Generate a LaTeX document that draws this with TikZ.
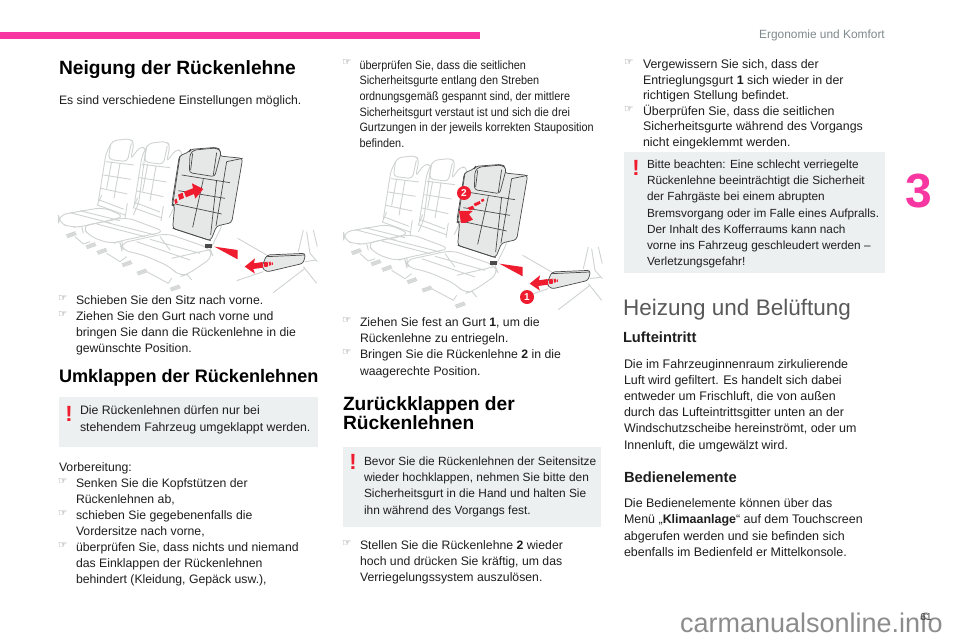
\documentclass[tikz,border=0pt]{standalone}
\usepackage{fontspec}
\setmainfont{Liberation Sans}
\newfontfamily\dejavu{DejaVu Sans}
\newfontfamily\condfont[FakeStretch=0.90]{Liberation Sans}
\definecolor{pinkbar}{HTML}{F736A2}
\definecolor{boxgray}{HTML}{EDF0F0}
\definecolor{txt}{HTML}{1E1E1E}
\definecolor{seatline}{HTML}{CFD3D1}
\definecolor{seatfill}{HTML}{E6E8E7}
\definecolor{seatdark}{HTML}{4A4A4A}
\definecolor{redmark}{HTML}{EE1C2E}
\definecolor{headgray}{HTML}{7F8A8C}
\tikzset{
 x=1pt,y=-1pt,
 body/.style={anchor=north west,inner sep=0pt,outer sep=0pt,align=left,text=txt,font=\fontsize{12.25}{16.3}\selectfont},
 bodyc/.style={body,font=\fontsize{12.45}{16.2}\selectfont},
 bodyb/.style={body,font=\fontsize{11.9}{16.3}\selectfont},
 cond/.style={anchor=north west,inner sep=0pt,outer sep=0pt,align=left,text=txt,font=\condfont\fontsize{12.1}{15.6}\selectfont},
 head/.style={anchor=north west,inner sep=0pt,outer sep=0pt,align=left,text=black,font=\bfseries\fontsize{19.2}{19.5}\selectfont},
 subhead/.style={anchor=north west,inner sep=0pt,outer sep=0pt,text=txt,font=\bfseries\fontsize{14.7}{16}\selectfont},
 hand/.style={anchor=north west,inner sep=0pt,outer sep=0pt,align=left,text=black!55,font=\dejavu\fontsize{10.5}{16}\selectfont},
 warnbox/.style={fill=boxgray,draw=none},
 warn/.style={anchor=center,inner sep=0pt,text=redmark,font=\bfseries\fontsize{22}{22}\selectfont},
 badge/.style={circle,fill=redmark,text=white,inner sep=0pt,minimum size=14pt,font=\bfseries\fontsize{10}{10}\selectfont},
 sl/.style={draw=seatline,line width=.9pt,line join=round},
 sd/.style={draw=seatdark,line width=.7pt,line join=round},
 rd/.style={fill=redmark,draw=none},
}
\newcommand{\seatpic}{%
 \foreach \dx/\dy in {0/0,108/8}{
  \begin{scope}[shift={(\dx,\dy)}]
   \draw[sl,rounded corners=4pt] (175,245)--(198,100)--(218,62)--(272,56)--(282,70)--(272,118)--(298,82)--(318,82)--(296,250)--(280,285);
   \draw[sl,rounded corners=4pt] (212,72)--(205,118)--(262,125)--(274,70);
   \draw[sl] (198,125)--(282,135) (190,165)--(272,178) (183,205)--(262,222) (178,240)--(252,268) (240,130)--(222,235) (215,125)--(200,205);
   \draw[sl] (185,225)--(172,255)--(255,285) (262,250)--(255,295);
  \end{scope}}
 \draw[sl,rounded corners=8pt] (56,285)--(190,262)--(255,290)--(125,320)--(95,322)--(56,310)--cycle;
 \draw[sl,rounded corners=8pt] (125,318)--(260,292)--(375,335)--(245,362)--(215,372)--(150,350)--cycle;
 \draw[sl,rounded corners=8pt] (240,370)--(380,340)--(510,385)--(520,410)--(445,462)--(420,470)--(390,440)--(310,405)--(245,390)--cycle;
 \draw[sl] (90,278)--(215,310) (120,272)--(240,302) (170,312)--(315,350) (190,305)--(345,345) (290,365)--(450,420) (330,358)--(480,400) (360,350)--(390,390) (395,415)--(505,390);
 \draw[sl] (125,320)--(130,340) (245,362)--(250,390) (440,462)--(455,480) (510,390)--(540,330)--(550,300);
 \foreach \a/\b in {78/345,137/378,170/395,245/432,290/457,390/505}{
  \draw[sl,line width=1pt] (\a,\b)--(\a+28,\b-10) (\a+2,\b+4)--(\a+30,\b-6) (\a+4,\b+8)--(\a+32,\b-2);}
 \draw[sl] (105,350)--(130,372)--(150,365) (200,400)--(240,425)--(260,410) (320,455)--(385,490)--(395,475);
 \filldraw[sd,fill=seatfill,rounded corners=3pt] (398,325)--(404,255)--(395,255)--(418,108)--(448,95)--(452,88)--(530,82)--(542,90)--(538,108)--(608,115)--(575,308)--(530,318)--(512,362)--cycle;
 \draw[sd,fill=seatfill,rounded corners=3pt] (450,102)--(462,90)--(530,84)--(544,95)--(524,170)--(448,158)--cycle;
 \draw[sd,rounded corners=3pt] (458,100)--(452,150) (530,98)--(520,165);
 \draw[sd] (425,165)--(570,188) (415,212)--(555,235) (406,252)--(545,282) (398,325)--(512,362);
 \draw[sd] (490,178)--(458,322) (530,180)--(512,345);
 \draw[sd,rounded corners=3pt] (560,125)--(608,115) (560,125)--(528,318) (420,108)--(398,255);
 \fill[seatdark] (495,372) rectangle (515,384);
 \draw[sl] (593,355)--(680,405) (590,482)--(670,455) (795,425)--(830,420) (790,440)--(830,490) (700,518)--(795,445) (790,330)--(775,395) (800,335)--(810,400)--(832,425) (820,330)--(832,380);
 \filldraw[sd,fill=seatfill,rounded corners=3pt] (680,405)--(797,400)--(790,430)--(680,456)--(665,442)--cycle;
 \draw[sd] (680,410)--(795,405);
 \fill[rd] (523,380)--(593,390)--(593,418)--cycle;
}
\newcommand{\arrowleft}{%
 \fill[rd] (614,440)--(645,415)--(642,430)--(668,426)--(670,443)--(640,447)--(645,461)--cycle;
 \fill[rd] (672,427)--(683,425)--(684,440)--(673,441)--cycle (686,426)--(692,425)--(693,436)--(687,437)--cycle (695,428)--(699,427)--(699,434)--(695,435)--cycle;
}
\begin{document}
\begin{tikzpicture}
\useasboundingbox (0,0) rectangle (960,640);
\fill[white] (0,0) rectangle (960,640);
\fill[pinkbar] (0,32) rectangle (480,38.5);
\node[anchor=base east,inner sep=0pt,text=headgray,font=\fontsize{11.9}{12}\selectfont] (chap) at (885,38) {Ergonomie und Komfort};
\node[anchor=center,inner sep=0pt,text=pinkbar,font=\bfseries\fontsize{48}{48}\selectfont] (num) at (919,191) {3};
% column 1
\node[head] (h1) at (59,60.5) {Neigung der Rückenlehne};
\node[body] (t1) at (59,96) {Es sind verschiedene Einstellungen möglich.};
\begin{scope}[shift={(40,120)},x=0.3333pt,y=-0.3333pt]
 \seatpic
 \fill[rd] (490,207)--(456,190)--(459,205)--(432,215)--(438,232)--(462,222)--(466,236)--cycle;
 \fill[rd] (414,224)--(428,218)--(432,234)--(418,240)--cycle (403,240)--(410,236)--(413,248)--(406,252)--cycle;
 \arrowleft
\end{scope}
\node[hand] (b1) at (58,296) {☞\\☞};
\node[body,font=\fontsize{12.25}{16.2}\selectfont] (t2) at (76,295.5) {Schieben Sie den Sitz nach vorne.\\Ziehen Sie den Gurt nach vorne und\\bringen Sie dann die Rückenlehne in die\\gewünschte Position.};
\node[head,font=\bfseries\fontsize{18.1}{19.5}\selectfont] (h2) at (59,369) {Umklappen der Rückenlehnen};
\fill[warnbox] (59,397) rectangle (318,447);
\node[warn] (w1) at (69,414) {!};
\node[body,font=\fontsize{12.3}{16.7}\selectfont] (t3) at (80,405.5) {Die Rückenlehnen dürfen nur bei\\stehendem Fahrzeug umgeklappt werden.};
\node[body] (t4) at (59,462.5) {Vorbereitung:};
\node[hand] (b2) at (58,479) {☞\\\\☞\\\\☞};
\node[body,font=\fontsize{12.25}{15.95}\selectfont] (t5) at (76,478.5) {Senken Sie die Kopfstützen der\\Rückenlehnen ab,\\schieben Sie gegebenenfalls die\\Vordersitze nach vorne,\\überprüfen Sie, dass nichts und niemand\\das Einklappen der Rückenlehnen\\behindert (Kleidung, Gepäck usw.),};
% column 2
\node[hand] (b3) at (342,60) {☞};
\node[cond] (t6) at (359.5,60.5) {überprüfen Sie, dass die seitlichen\\Sicherheitsgurte entlang den Streben\\ordnungsgemäß gespannt sind, der mittlere\\Sicherheitsgurt verstaut ist und sich die drei\\Gurtzungen in der jeweils korrekten Stauposition\\befinden.};
\begin{scope}[shift={(325,137)},x=0.3333pt,y=-0.3333pt]
 \seatpic
 \fill[rd] (402,222)--(443,222)--(432,232)--(444,248)--(420,258)--(408,258)--cycle;
 \fill[rd] (428,212)--(444,206)--(448,216)--(434,220)--cycle (446,200)--(464,192)--(467,200)--(450,208)--cycle (468,188)--(476,185)--(478,192)--(470,195)--cycle;
 \arrowleft
\end{scope}
\node[badge] (n2) at (464,193) {2};
\node[badge] (n1) at (527,297) {1};
\node[hand] (b4) at (342,318) {☞\\\\☞};
\node[body] (t7) at (360,317.5) {Ziehen Sie fest an Gurt \textbf{1}, um die\\Rückenlehne zu entriegeln.\\Bringen Sie die Rückenlehne \textbf{2} in die\\waagerechte Position.};
\node[head] (h3) at (343,396.5) {Zurückklappen der\\Rückenlehnen};
\fill[warnbox] (343,447) rectangle (601,527);
\node[warn] (w2) at (353,462) {!};
\node[bodyb] (t8) at (364,456.5) {Bevor Sie die Rückenlehnen der Seitensitze\\wieder hochklappen, nehmen Sie bitte den\\Sicherheitsgurt in die Hand und halten Sie\\ihn während des Vorgangs fest.};
\node[hand] (b5) at (342,541) {☞};
\node[body] (t9) at (360,540.5) {Stellen Sie die Rückenlehne \textbf{2} wieder\\hoch und drücken Sie kräftig, um das\\Verriegelungssystem auszulösen.};
% column 3
\node[hand,font=\dejavu\fontsize{10.5}{15.55}\selectfont] (b6) at (624,60) {☞\\\\\\☞};
\node[bodyc,font=\fontsize{12.4}{15.55}\selectfont] (t10) at (643,59.5) {Vergewissern Sie sich, dass der\\Entrieglungsgurt \textbf{1} sich wieder in der\\richtigen Stellung befindet.\\Überprüfen Sie, dass die seitlichen\\Sicherheitsgurte während des Vorgangs\\nicht eingeklemmt werden.};
\fill[warnbox] (624,151.5) rectangle (885,273);
\node[warn] (w3) at (636,168) {!};
\node[bodyb,font=\fontsize{11.8}{16.2}\selectfont] (t11) at (647,160) {Bitte beachten: Eine schlecht verriegelte\\Rückenlehne beeinträchtigt die Sicherheit\\der Fahrgäste bei einem abrupten\\Bremsvorgang oder im Falle eines Aufpralls.\\Der Inhalt des Kofferraums kann nach\\vorne ins Fahrzeug geschleudert werden –\\Verletzungsgefahr!};
\node[anchor=north west,inner sep=0pt,text=black!65,font=\fontsize{22.5}{24}\selectfont] (h4) at (623,298.5) {Heizung und Belüftung};
\node[subhead] (h5) at (623,332) {Lufteintritt};
\node[bodyc] (t12) at (624,359) {Die im Fahrzeuginnenraum zirkulierende\\Luft wird gefiltert. Es handelt sich dabei\\entweder um Frischluft, die von außen\\durch das Lufteintrittsgitter unten an der\\Windschutzscheibe hereinströmt, oder um\\Innenluft, die umgewälzt wird.};
\node[subhead] (h6) at (624,472) {Bedienelemente};
\node[bodyc,font=\fontsize{12.45}{16.3}\selectfont] (t13) at (624,498.5) {Die Bedienelemente können über das\\Menü „\textbf{Klimaanlage}“ auf dem Touchscreen\\abgerufen werden und sie befinden sich\\ebenfalls im Bedienfeld er Mittelkonsole.};
\node[anchor=base east,inner sep=0pt,text=black!45,font=\fontsize{27}{27}\selectfont] (wm) at (943,632) {carmanualsonline.info};
\node[anchor=center,inner sep=0pt,text=black!75,font=\fontsize{10}{10}\selectfont] (pg) at (926,617.5) {61};
\end{tikzpicture}
\end{document}
